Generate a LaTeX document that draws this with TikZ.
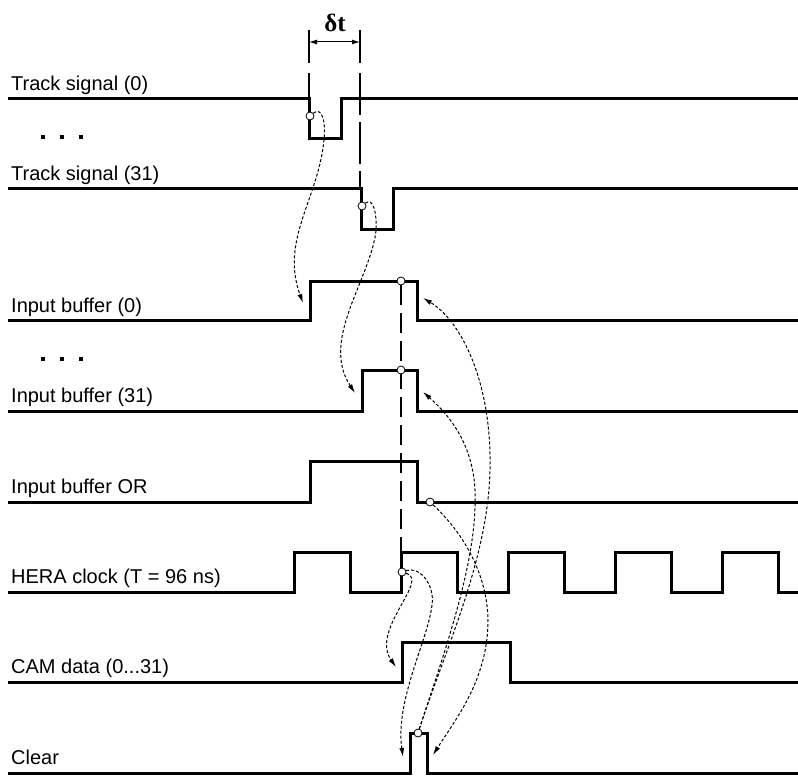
\documentclass[tikz,border=0pt]{standalone}
\usepackage{fontspec}
\setmainfont{Liberation Sans}
\newfontfamily\deltafont{Liberation Serif}
\usetikzlibrary{arrows.meta}

\begin{document}
\begin{tikzpicture}[x=1pt, y=-1pt,
    sig/.style={line width=3pt},
    guide/.style={line width=1.2pt, dash pattern=on 20pt off 8pt},
    cause/.style={line width=1pt, dash pattern=on 3pt off 2pt, -{Latex[length=9pt,width=5pt]}},
    tap/.style={circle, draw, fill=white, line width=0.8pt, inner sep=0pt, minimum size=8pt},
    lbl/.style={anchor=base west, inner sep=0pt, font=\fontsize{20}{24}\selectfont},
    dotsq/.style={fill=black, inner sep=0pt, minimum size=4.5pt}]
  \useasboundingbox (0,0) rectangle (798,776);

  % signal names
  \node[lbl] (lts0) at (11,90) {Track signal (0)};
  \node[lbl] (lts31) at (11,180) {Track signal (31)};
  \node[lbl] (lib0) at (11,312) {Input buffer (0)};
  \node[lbl] (lib31) at (11,402) {Input buffer (31)};
  \node[lbl] (libor) at (11,493) {Input buffer OR};
  \node[lbl] (lhera) at (11,583) {HERA clock (T = 96 ns)};
  \node[lbl] (lcam) at (11,673) {CAM data (0...31)};
  \node[lbl] (lclr) at (11,764) {Clear};
  \node[dotsq] (da1) at (43,137) {}; \node[dotsq] (da2) at (62,137) {}; \node[dotsq] (da3) at (81,137) {};
  \node[dotsq] (db1) at (43,359) {}; \node[dotsq] (db2) at (62,359) {}; \node[dotsq] (db3) at (81,359) {};

  % waveforms
  \draw[sig] (8,98) -- (309,98) -- (309,138) -- (341,138) -- (341,98) -- (798,98);
  \draw[sig] (8,188) -- (361,188) -- (361,229) -- (393,229) -- (393,188) -- (798,188);
  \draw[sig] (8,320) -- (310,320) -- (310,281) -- (417,281) -- (417,320) -- (798,320);
  \draw[sig] (8,411) -- (362,411) -- (362,370) -- (417,370) -- (417,411) -- (798,411);
  \draw[sig] (8,502) -- (310,502) -- (310,461) -- (417,461) -- (417,502) -- (798,502);
  \draw[sig] (8,592) -- (294,592) -- (294,552) -- (350,552) -- (350,592) -- (401,592) -- (401,552)
    -- (457,552) -- (457,592) -- (508,592) -- (508,552) -- (564,552) -- (564,592) -- (615,592)
    -- (615,552) -- (671,552) -- (671,592) -- (722,592) -- (722,552) -- (778,552) -- (778,592) -- (798,592);
  \draw[sig] (8,682) -- (402,682) -- (402,642) -- (510,642) -- (510,682) -- (798,682);
  \draw[sig] (8,773) -- (410,773) -- (410,733) -- (427,733) -- (427,773) -- (798,773);

  % delta t
  \coordinate (dtl) at (309,42);
  \coordinate (dtr) at (360,42);
  \draw[line width=1.2pt] (309,30) -- (309,63) (360,30) -- (360,63) (309,73) -- (309,98);
  \draw[guide, dash pattern=on 42pt off 7pt] (360,73) -- (360,188);
  \draw[line width=1pt, {Latex[length=8pt,width=5pt]}-{Latex[length=8pt,width=5pt]}] (dtl) -- (dtr);
  \node[font=\deltafont\bfseries\fontsize{25}{30}\selectfont, inner sep=0pt] (dt) at (335,23) {δt};
  \draw[guide] (401,285) -- (401,552);

  % taps and targets
  \node[tap] (ts0) at (310,116) {};
  \node[tap] (ts31) at (362,206) {};
  \node[tap] (ib0) at (401,281) {};
  \node[tap] (ib31) at (401,370) {};
  \node[tap] (ibor) at (430,502) {};
  \node[tap] (hera) at (402,572) {};
  \node[tap] (clr) at (418,733) {};
  \coordinate (ib0r) at (303,303);
  \coordinate (ib31r) at (355,393);
  \coordinate (ib0f) at (423,298);
  \coordinate (ib31f) at (423,392);
  \coordinate (camr) at (396,667);
  \coordinate (clrr) at (403,757);
  \coordinate (clrf) at (433,755);

  % causality
  \draw[cause] (ts0) .. controls (322,106) and (326,122) .. (324,140) .. controls (318,200) and (280,240) .. (ib0r);
  \draw[cause] (ts31) .. controls (373,197) and (377,212) .. (376,231) .. controls (370,280) and (320,340) .. (ib31r);
  \draw[cause] (hera) .. controls (430,580) and (370,630) .. (camr);
  \draw[cause] (hera) .. controls (420,566) and (435,585) .. (432,605) .. controls (428,640) and (395,700) .. (clrr);
  \draw[cause] (clr) .. controls (445,650) and (488,560) .. (490,470) .. controls (492,380) and (460,320) .. (ib0f);
  \draw[cause] (clr) .. controls (445,650) and (478,560) .. (475,490) .. controls (473,450) and (455,420) .. (ib31f);
  \draw[cause] (ibor) .. controls (460,530) and (487,570) .. (488,620) .. controls (488,680) and (455,720) .. (clrf);
\end{tikzpicture}
\end{document}
